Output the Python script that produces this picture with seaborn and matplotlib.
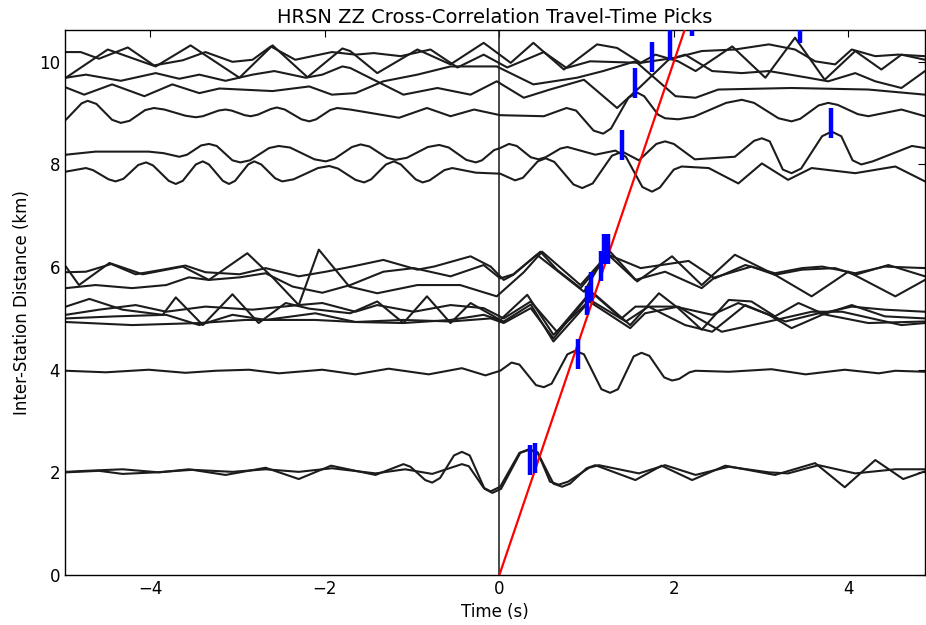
import numpy as np
import pandas as pd
import matplotlib
matplotlib.use("Agg")
import matplotlib.pyplot as plt
import seaborn as sns

# ---------------- data ----------------
# traces: time (s) and inter-station distance (km) of the plotted wiggles
t_T1 = [-4.97, -4.80, -4.59, -4.26, -3.96, -3.63, -3.37, -3.06, -2.83, -2.62, -2.34, -1.92, -1.65, -1.44, -1.13, -0.79, -0.48, -0.18, 0.09, 0.51, 0.77, 1.04, 1.62, 2.02, 2.32, 2.70, 3.09, 3.39, 3.62, 3.85, 4.04, 4.31, 4.57, 4.88]
d_T1 = [10.19, 10.19, 10.06, 10.28, 9.93, 10.03, 10.19, 10.00, 10.04, 10.30, 10.04, 10.19, 10.14, 10.17, 10.11, 10.24, 9.89, 10.14, 9.89, 10.19, 9.88, 10.01, 9.98, 10.08, 10.21, 10.24, 10.34, 10.24, 10.01, 9.95, 10.24, 10.11, 10.14, 10.11]

t_T2 = [-4.97, -4.49, -3.94, -3.54, -2.98, -2.60, -2.20, -1.80, -1.71, -1.40, -0.94, -0.56, -0.18, 0.13, 0.39, 0.74, 1.12, 1.35, 1.62, 1.79, 2.05, 2.25, 2.67, 3.05, 3.39, 3.73, 4.08, 4.38, 4.61, 4.88]
d_T2 = [9.69, 10.24, 9.91, 10.32, 9.69, 10.32, 9.70, 10.26, 10.21, 9.78, 10.24, 9.95, 10.37, 9.98, 10.37, 9.85, 10.34, 10.27, 9.98, 10.14, 10.01, 9.82, 10.30, 9.69, 10.47, 9.65, 10.21, 9.85, 10.14, 10.04]

t_T3 = [-4.97, -4.74, -4.34, -3.94, -3.67, -3.44, -3.14, -2.83, -2.58, -2.22, -2.03, -1.80, -1.71, -1.10, -0.71, -0.33, -0.03, 0.28, 0.58, 0.97, 1.35, 1.62, 1.94, 2.13, 2.44, 2.78, 3.09, 3.54, 3.77, 4.08, 4.31, 4.61, 4.88]
d_T3 = [9.69, 9.75, 9.63, 9.78, 9.67, 9.75, 9.63, 9.75, 9.82, 9.69, 9.75, 9.91, 9.88, 9.36, 9.49, 9.36, 9.62, 9.30, 9.46, 9.65, 9.10, 9.52, 10.04, 10.14, 9.82, 9.78, 9.82, 9.69, 9.62, 9.78, 9.62, 9.49, 9.82]

t_T4 = [-4.97, -4.76, -4.44, -4.07, -3.75, -3.44, -3.21, -2.60, -2.18, -1.92, -1.65, -1.33, -0.94, -0.56, -0.03, 0.39, 0.89, 1.19, 1.56, 2.02, 2.25, 2.51, 3.35, 4.23, 4.88]
d_T4 = [9.50, 9.36, 9.56, 9.33, 9.56, 9.39, 9.48, 9.43, 9.52, 9.36, 9.39, 9.62, 9.75, 9.91, 9.91, 9.56, 9.69, 9.82, 10.01, 9.33, 9.30, 9.46, 9.49, 9.46, 9.36]

t_T5 = [-4.97, -4.79, -4.72, -4.62, -4.44, -4.34, -4.24, -4.06, -3.96, -3.84,
        -3.60, -3.48, -3.40, -3.22, -3.14, -3.07, -2.92, -2.85, -2.77, -2.62,
        -2.55, -2.46, -2.27, -2.18, -2.10, -1.94, -1.86,
        -1.71, -1.15, -0.83, -0.56, -0.29, 0.01, 0.51, 0.77, 0.88, 1.08,
        1.19, 1.28, 1.48, 1.58, 1.66, 1.82, 1.90, 2.05, 2.23, 2.60,
        2.78, 2.92, 3.20, 3.35, 3.45, 3.66, 3.77, 3.88, 4.11, 4.23, 4.61, 4.88]
d_T5 = [8.87, 9.19, 9.24, 9.18, 8.87, 8.81, 8.85, 9.06, 9.10, 9.07,
        8.95, 8.92, 8.94, 9.05, 9.07, 9.05, 8.96, 8.94, 8.97, 9.08,
        9.11, 9.07, 8.88, 8.84, 8.88, 9.06, 9.10,
        9.07, 8.91, 9.10, 8.94, 9.07, 8.96, 8.94, 9.10, 9.05, 8.66,
        8.60, 8.70, 9.30, 9.40, 9.33, 8.97, 8.90, 8.88, 8.93, 9.20,
        9.26, 9.20, 8.90, 8.84, 8.89, 9.15, 9.20, 9.16, 8.98, 8.94, 9.07, 8.94]

t_U8 = [-4.97, -4.63, -4.02, -3.85, -3.67, -3.58, -3.42, -3.33, -3.24, -3.06,
        -2.97, -2.86, -2.64, -2.53, -2.40, -2.12, -1.99, -1.89, -1.69, -1.59,
        -1.49, -1.29, -1.19, -1.06, -0.82, -0.69, -0.58, -0.38, -0.27, -0.20,
        -0.06, 0.01, 0.11, 0.20, 0.36, 0.45, 0.53, 0.70, 0.78, 1.10,
        1.33, 1.45, 1.64, 1.75, 1.84, 2.00, 2.09,
        2.40, 2.74, 3.01, 3.31, 3.58, 4.08, 4.54, 4.88]
d_U8 = [8.19, 8.25, 8.25, 8.22, 8.15, 8.19, 8.37, 8.40, 8.36, 8.08,
        8.04, 8.08, 8.32, 8.36, 8.33, 8.10, 8.06, 8.11, 8.34, 8.39,
        8.35, 8.13, 8.09, 8.13, 8.34, 8.38, 8.33, 8.09, 8.04, 8.08,
        8.28, 8.32, 8.40, 8.36, 8.14, 8.10, 8.14, 8.31, 8.34, 8.19,
        8.27, 8.15, 7.56, 7.47, 7.55, 7.90, 7.96,
        7.93, 7.63, 8.02, 7.70, 7.93, 7.83, 7.96, 7.67]

t_L8 = [-4.97, -4.74, -4.66, -4.48, -4.40, -4.31, -4.14, -4.05, -3.97, -3.79,
        -3.71, -3.63, -3.48, -3.40, -3.33, -3.17, -3.10, -3.03, -2.88, -2.81,
        -2.73, -2.57, -2.49, -2.36, -2.08, -1.95, -1.85, -1.65, -1.55, -1.47,
        -1.30, -1.21, -1.13, -0.96, -0.88, -0.80, -0.63, -0.54, -0.27, 0.01,
        0.18, 0.27, 0.44, 0.53, 0.63, 0.85, 0.95, 1.07, 1.29, 1.41,
        1.60, 1.80, 1.90, 2.00, 2.24, 2.70, 2.92, 3.01, 3.10, 3.25,
        3.35, 3.46, 3.70, 3.81, 3.92, 4.05, 4.15, 4.28, 4.73, 4.88]
d_L8 = [7.86, 7.93, 7.89, 7.71, 7.67, 7.72, 7.99, 8.04, 7.98, 7.68,
        7.62, 7.68, 8.00, 8.06, 8.00, 7.68, 7.62, 7.68, 8.00, 8.06,
        8.00, 7.73, 7.67, 7.71, 7.93, 7.97, 7.92, 7.70, 7.65, 7.71,
        8.00, 8.06, 8.00, 7.71, 7.65, 7.69, 7.89, 7.93, 7.84, 7.82,
        7.69, 7.74, 8.06, 8.12, 8.05, 7.61, 7.54, 7.63, 8.17, 8.25,
        8.08, 8.40, 8.45, 8.40, 8.10, 8.15, 8.46, 8.51, 8.45, 7.90,
        7.83, 7.92, 8.55, 8.64, 8.55, 8.08, 8.00, 8.06, 8.36, 8.32]

t_S1 = [-4.97, -4.82, -4.47, -4.09, -3.63, -3.33, -2.89, -2.60, -2.30, -2.07, -1.72, -1.40, -0.94, -0.45, -0.03, 0.28, 0.49, 0.93, 1.27, 1.58, 1.98, 2.32, 2.70, 3.16, 3.58, 4.00, 4.54, 4.88]
d_S1 = [6.01, 5.65, 6.08, 5.86, 6.01, 5.75, 6.27, 5.80, 5.26, 6.34, 5.62, 5.49, 5.65, 5.65, 5.43, 5.90, 6.30, 5.65, 6.30, 5.72, 6.21, 5.65, 6.24, 5.85, 5.43, 5.91, 5.43, 5.75]

t_S2 = [-4.97, -4.74, -4.45, -4.17, -3.86, -3.60, -3.37, -2.98, -2.68, -2.30, -1.99, -1.69, -1.33, -0.94, -0.75, -0.33, -0.10, 0.05, 0.16, 0.47, 0.66, 0.93, 1.25, 1.62, 2.17, 2.47, 2.82, 3.16, 3.47, 3.70, 4.08, 4.42, 4.88]
d_S2 = [5.90, 5.91, 6.06, 5.86, 5.95, 6.03, 5.90, 5.86, 5.98, 5.82, 5.91, 6.01, 6.14, 5.95, 6.01, 6.21, 6.01, 5.75, 5.85, 6.30, 5.95, 5.59, 6.24, 5.98, 6.12, 5.78, 6.04, 5.88, 5.98, 6.01, 5.88, 6.01, 5.98]

t_S3 = [-4.97, -4.63, -4.21, -3.82, -3.56, -3.33, -2.98, -2.68, -2.37, -2.03, -1.71, -1.33, -0.98, -0.56, -0.18, 0.01, 0.16, 0.43, 0.97, 1.23, 1.56, 1.90, 2.32, 2.47, 2.89, 3.16, 3.47, 3.85, 4.08, 4.46, 4.88]
d_S3 = [5.59, 5.65, 5.59, 5.65, 5.80, 5.75, 5.80, 5.88, 5.62, 5.50, 5.65, 5.91, 5.98, 5.82, 6.04, 5.78, 5.86, 6.24, 5.52, 6.27, 5.75, 5.91, 5.59, 5.80, 6.01, 5.85, 5.95, 5.98, 5.85, 6.04, 5.82]

t_S4 = [-4.97, -4.70, -4.32, -3.86, -3.71, -3.40, -3.06, -2.76, -2.45, -2.18, -1.71, -1.40, -1.10, -0.83, -0.56, -0.33, 0.01, 0.32, 0.62, 1.10, 1.50, 1.83, 2.05, 2.32, 2.63, 2.89, 3.16, 3.43, 3.70, 4.04, 4.42, 4.88]
d_S4 = [5.23, 5.38, 5.17, 5.07, 5.41, 4.87, 5.47, 4.91, 5.30, 5.19, 5.10, 5.33, 4.91, 5.43, 4.91, 5.30, 4.97, 5.46, 4.68, 5.46, 4.87, 5.49, 5.20, 4.78, 5.36, 5.33, 5.04, 5.30, 5.10, 5.23, 5.17, 5.13]

t_S5 = [-4.97, -4.59, -4.17, -3.82, -3.37, -2.83, -2.30, -2.03, -1.65, -1.40, -0.98, -0.56, -0.18, 0.05, 0.36, 0.66, 1.05, 1.40, 1.56, 2.02, 2.44, 2.74, 3.09, 3.35, 3.70, 4.04, 4.42, 4.88]
d_S5 = [5.07, 5.17, 5.26, 5.13, 5.23, 5.17, 5.26, 5.30, 5.13, 5.26, 5.13, 5.26, 5.20, 5.00, 5.33, 4.74, 5.52, 5.00, 5.23, 5.23, 5.07, 5.30, 5.07, 4.81, 5.07, 5.26, 5.04, 5.00]

t_S6 = [-4.97, -4.40, -3.82, -3.44, -3.06, -2.68, -2.11, -1.65, -1.10, -0.56, -0.10, 0.05, 0.36, 0.62, 1.00, 1.45, 1.71, 2.13, 2.44, 2.82, 3.28, 3.66, 4.23, 4.88]
d_S6 = [5.00, 5.04, 5.07, 4.87, 5.07, 4.97, 5.10, 4.93, 4.97, 4.94, 5.00, 4.91, 5.20, 4.61, 5.40, 4.94, 5.23, 4.87, 4.74, 5.26, 4.94, 5.10, 4.91, 4.94]

t_S7 = [-4.97, -4.21, -3.44, -2.91, -2.11, -1.65, -1.10, -0.56, -0.18, 0.05, 0.36, 0.62, 1.03, 1.50, 1.67, 2.05, 2.55, 3.09, 3.58, 3.93, 4.61, 4.88]
d_S7 = [4.93, 4.87, 4.91, 4.97, 4.97, 4.93, 4.91, 4.97, 5.07, 4.94, 5.27, 4.55, 5.33, 4.81, 5.10, 5.23, 4.74, 4.94, 5.13, 5.13, 4.87, 4.91]

t_F4 = [-4.97, -4.51, -4.02, -3.60, -3.25, -2.87, -2.53, -2.03, -1.65, -1.27, -0.81, -0.43, -0.16, 0.01,
        0.14, 0.23, 0.42, 0.51, 0.60, 0.78, 0.87, 0.97, 1.17, 1.27, 1.36, 1.54, 1.63, 1.72, 1.89, 1.98, 2.06, 2.18, 2.25,
        2.63, 3.12, 3.51, 3.96, 4.35, 4.54, 4.88]
d_F4 = [3.98, 3.95, 4.00, 3.94, 3.98, 4.00, 3.93, 4.00, 3.91, 4.02, 3.91, 4.03, 3.89, 3.98,
        4.14, 4.10, 3.70, 3.66, 3.73, 4.30, 4.37, 4.30, 3.62, 3.55, 3.62, 4.26, 4.33, 4.27, 3.85, 3.79, 3.82, 3.95, 3.98,
        3.96, 4.01, 3.91, 4.00, 3.93, 3.98, 3.96]

t_W1 = [-4.97, -4.74, -4.32, -3.90, -3.56, -3.14, -2.68, -2.30, -1.93, -1.42, -1.10,
        -1.02, -0.85, -0.77, -0.68, -0.52, -0.43, -0.34, -0.17, -0.08, 0.02, 0.24, 0.34, 0.44, 0.62, 0.72, 0.81, 1.00,
        1.10, 1.56, 1.86, 2.21, 2.59, 3.16, 3.62, 3.96, 4.31, 4.63, 4.88]
d_W1 = [2.01, 2.03, 2.06, 2.00, 2.06, 1.95, 2.09, 1.87, 2.13, 1.95, 2.16,
        2.11, 1.85, 1.80, 1.89, 2.33, 2.40, 2.33, 1.68, 1.60, 1.68, 2.38, 2.44, 2.38, 1.78, 1.72, 1.78, 2.08,
        2.14, 1.85, 2.13, 1.85, 2.13, 1.95, 2.18, 1.71, 2.24, 1.87, 2.02]

t_W2 = [-4.97, -4.59, -4.32, -3.94, -3.52, -3.06, -2.68, -2.30, -1.92, -1.42, -1.08, -0.77, -0.43,
        -0.35, -0.18, -0.10, 0.01, 0.23, 0.34, 0.44, 0.58, 0.68, 0.79, 1.03,
        1.14, 1.60, 1.90, 2.25, 2.63, 3.09, 3.31, 3.66, 4.08, 4.54, 4.88]
d_W2 = [2.00, 2.03, 1.97, 2.00, 2.05, 2.01, 2.06, 2.01, 2.08, 1.98, 2.06, 1.97, 2.16,
        2.12, 1.70, 1.63, 1.72, 2.38, 2.45, 2.39, 1.82, 1.76, 1.82, 2.09,
        2.14, 1.98, 2.14, 1.95, 2.11, 2.00, 1.98, 2.14, 1.98, 2.06, 2.06]

# travel-time picks (time s, distance km)
pick_t = [0.35, 0.41, 0.90, 1.01, 1.05, 1.16, 1.20, 1.25, 1.41, 1.56, 1.75, 1.96, 2.21, 3.45, 3.80]
pick_d = [2.24, 2.28, 4.30, 5.35, 5.62, 6.02, 6.35, 6.35, 8.38, 9.59, 10.10, 10.33, 10.80, 10.65, 8.81]

# reference moveout line
move_t = [0.0, 2.2]
move_d = [0.0, 11.0]

x_ticks = [-4, -2, 0, 2, 4]
y_ticks = [0, 2, 4, 6, 8, 10]

# ---------------- build long-form table ----------------
traces = {
    "T1": (t_T1, d_T1), "T2": (t_T2, d_T2), "T3": (t_T3, d_T3), "T4": (t_T4, d_T4),
    "T5": (t_T5, d_T5), "U8": (t_U8, d_U8), "L8": (t_L8, d_L8),
    "S1": (t_S1, d_S1), "S2": (t_S2, d_S2), "S3": (t_S3, d_S3), "S4": (t_S4, d_S4),
    "S5": (t_S5, d_S5), "S6": (t_S6, d_S6), "S7": (t_S7, d_S7),
    "F4": (t_F4, d_F4), "W1": (t_W1, d_W1), "W2": (t_W2, d_W2),
}
frames = []
for name, (tt, dd) in traces.items():
    frames.append(pd.DataFrame({"trace": name, "time": tt, "dist": dd}))
df = pd.concat(frames, ignore_index=True)

# ---------------- figure ----------------
sns.set_style("white")
plt.rcParams["font.family"] = ["DejaVu Sans"]
plt.rcParams["text.color"] = "black"
plt.rcParams["axes.labelcolor"] = "black"
plt.rcParams["xtick.color"] = "black"
plt.rcParams["ytick.color"] = "black"
plt.rcParams["lines.solid_joinstyle"] = "round"

fig = plt.figure(figsize=(9.26, 6.25), dpi=100)
ax = fig.add_axes([65 / 926, 50 / 625, 860 / 926, 545 / 625])

sns.lineplot(data=df, x="time", y="dist", units="trace", estimator=None,
             sort=False, color="#1c1c1c", linewidth=1.5, ax=ax)

ax.axvline(0, color="#2a2a2a", linewidth=1.2, zorder=1)

sns.lineplot(x=move_t, y=move_d, color="red", linewidth=1.6, ax=ax, zorder=4)

half = 0.29
ax.vlines(pick_t, np.array(pick_d) - half, np.array(pick_d) + half,
          colors="blue", linewidth=3.2, zorder=5)

ax.set_xlim(-4.98, 4.88)
ax.set_ylim(0, 10.62)
ax.set_xticks(x_ticks)
ax.set_yticks(y_ticks)
ax.tick_params(direction="in", top=True, right=True, length=5, width=0.8,
               labelsize=12, colors="black")
for s in ax.spines.values():
    s.set_visible(True)
    s.set_color("black")
    s.set_linewidth(1.0)

ax.set_xlabel("Time (s)", fontsize=12, labelpad=4, color="black")
ax.set_ylabel("Inter-Station Distance (km)", fontsize=12, labelpad=6, color="black")
ax.set_title("HRSN ZZ Cross-Correlation Travel-Time Picks", fontsize=14, pad=5,
             color="black")

fig.savefig("out.png", dpi=100, facecolor="white")
